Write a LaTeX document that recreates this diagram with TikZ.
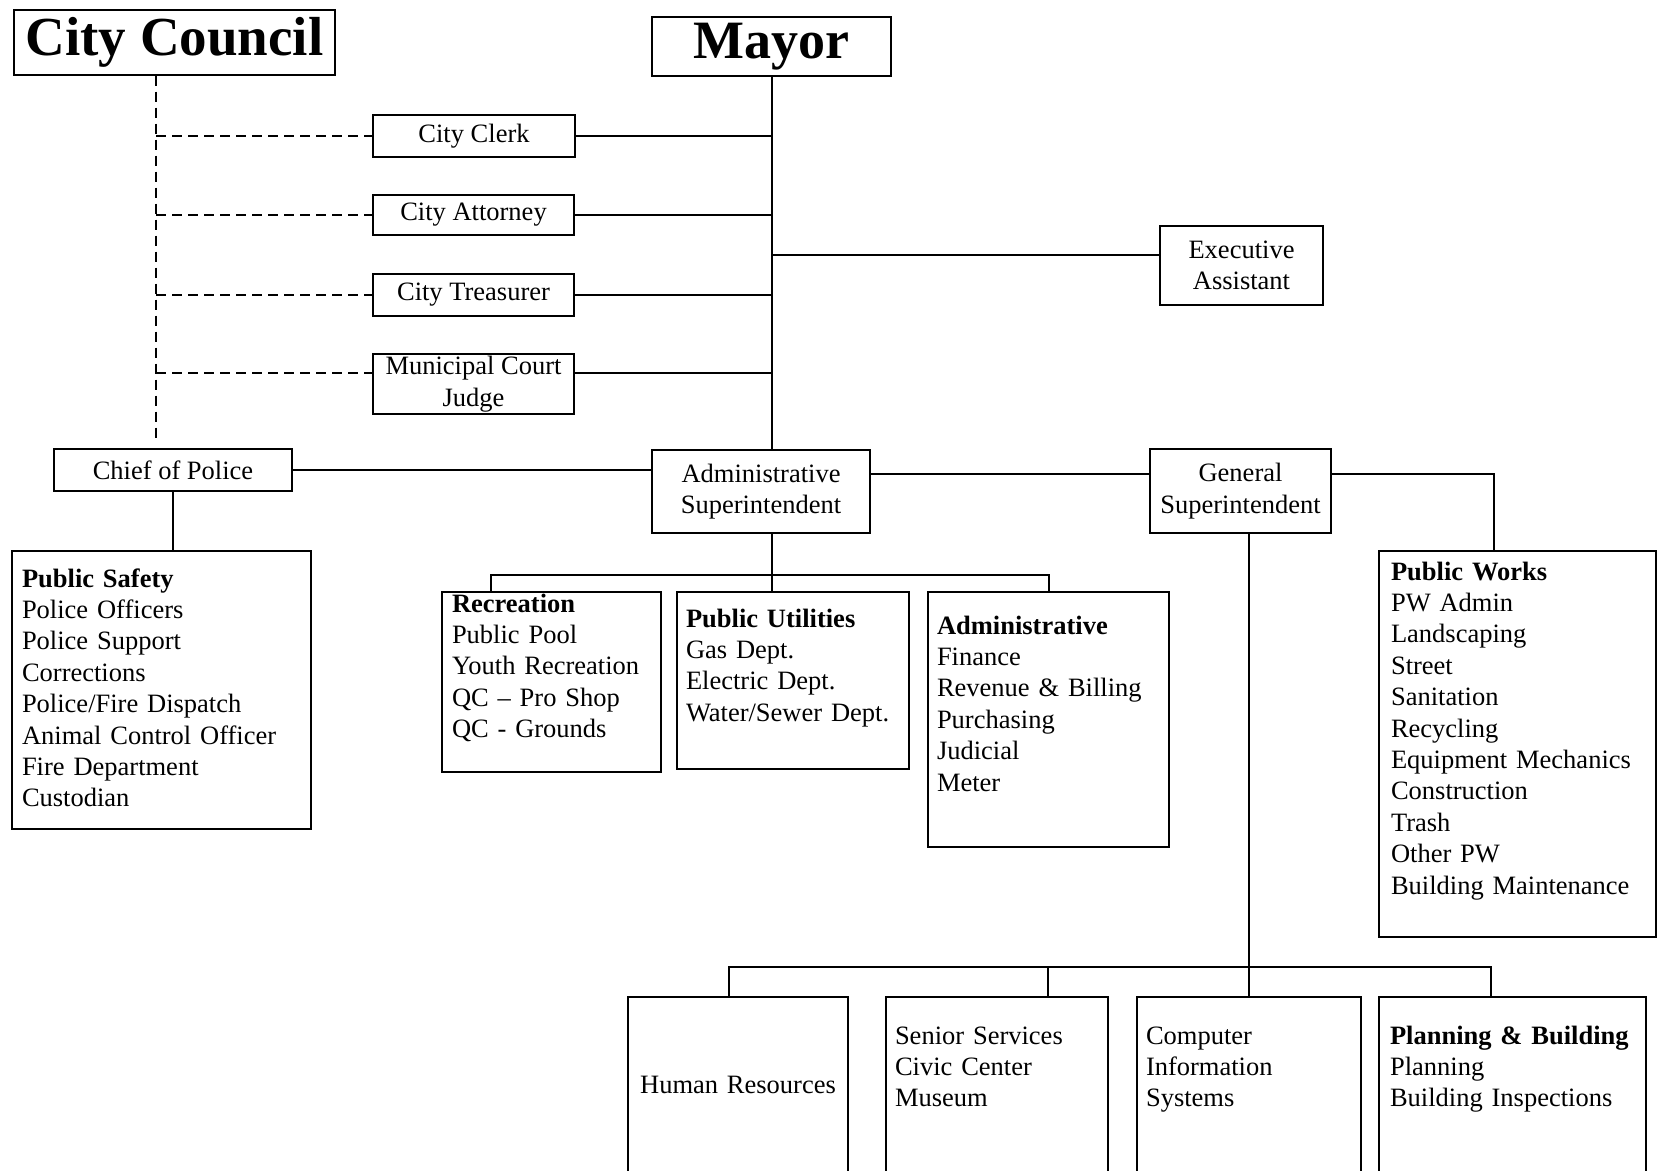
\documentclass[tikz,border=0pt]{standalone}
\usepackage{fontspec}
\setmainfont{Liberation Serif}
\begin{document}
\begin{tikzpicture}[x=1pt,y=-1pt,line width=2pt,
  every node/.style={font=\fontsize{26.5}{31.4}\selectfont},
  post/.style={draw,anchor=north west,inner sep=0pt,align=center},
  unit/.style={draw,anchor=north west,inner ysep=0pt,inner xsep=9pt,align=left},
  link/.style={dash pattern=on 10pt off 6pt}]
  \useasboundingbox (0,0) rectangle (1661,1170);
  \clip (0,0) rectangle (1661,1170);
  \node[post,minimum width=321pt,minimum height=65pt,font=\fontsize{55}{60}\selectfont\bfseries] (council) at (13,8.5) {City Council};
  \node[post,minimum width=239pt,minimum height=59pt,font=\fontsize{54}{60}\selectfont\bfseries] (mayor) at (651,16) {Mayor};
  \node[post,minimum width=202pt,minimum height=42pt] (clerk) at (372,114) {City Clerk};
  \node[post,minimum width=201pt,minimum height=40pt] (attorney) at (372,194) {City Attorney};
  \node[post,minimum width=201pt,minimum height=42pt] (treasurer) at (372,273) {City Treasurer};
  \node[post,minimum width=201pt,minimum height=60pt] (judge) at (372,353) {Municipal Court\\Judge};
  \node[post,minimum width=163pt,minimum height=79pt] (exec) at (1159,225) {Executive\\Assistant};
  \node[post,minimum width=238pt,minimum height=42pt] (chief) at (53,448) {Chief of Police};
  \node[post,minimum width=218pt,minimum height=83pt] (adminsup) at (651,449) {Administrative\\Superintendent};
  \node[post,minimum width=181pt,minimum height=84pt] (gensup) at (1149,448) {General\\Superintendent};
  \node[unit,inner xsep=10pt,text width=279pt,text height=36pt,text depth=242pt] (safety) at (11,550)
    {\textbf{Public Safety}\\Police Officers\\Police Support\\Corrections\\Police/Fire Dispatch\\Animal Control Officer\\Fire Department\\Custodian};
  \node[unit,inner xsep=10pt,text width=199pt,text height=20pt,text depth=160pt] (recreation) at (441,591)
    {\textbf{Recreation}\\Public Pool\\Youth Recreation\\QC -- Pro Shop\\QC - Grounds};
  \node[unit,text width=214pt,text height=35pt,text depth=142pt] (utilities) at (676,591)
    {\textbf{Public Utilities}\\Gas Dept.\\Electric Dept.\\Water/Sewer Dept.};
  \node[unit,text width=223pt,text height=42pt,text depth=213pt] (administrative) at (927,591)
    {\textbf{Administrative}\\Finance\\Revenue \& Billing\\Purchasing\\Judicial\\Meter};
  \node[unit,inner xsep=12pt,text width=253pt,text height=29pt,text depth=357pt] (works) at (1378,550)
    {\textbf{Public Works}\\PW Admin\\Landscaping\\Street\\Sanitation\\Recycling\\Equipment Mechanics\\Construction\\Trash\\Other PW\\Building Maintenance};
  \node[unit,inner xsep=10pt,align=center,text width=200pt,text height=96pt,text depth=150pt] (hr) at (627,996) {Human Resources};
  \node[unit,text width=204pt,text height=47pt,text depth=200pt] (senior) at (885,996)
    {Senior Services\\Civic Center\\Museum};
  \node[unit,text width=206pt,text height=47pt,text depth=200pt] (computer) at (1136,996)
    {Computer\\Information\\Systems};
  \node[unit,inner xsep=11pt,text width=245pt,text height=47pt,text depth=200pt] (planning) at (1378,996)
    {\textbf{Planning \& Building}\\Planning\\Building Inspections};
  \coordinate (cbot) at (156,443);
  \coordinate (jleft) at ([yshift=11pt]judge.west);
  \coordinate (jright) at ([yshift=11pt]judge.east);
  \draw[link] (council.south -| cbot) -- (cbot);
  \draw[link] (cbot |- clerk.west) -- (clerk.west);
  \draw[link] (cbot |- attorney.west) -- (attorney.west);
  \draw[link] (cbot |- treasurer.west) -- (treasurer.west);
  \draw[link] (cbot |- jleft) -- (jleft);
  \draw (mayor.south) -- (mayor.south |- adminsup.north);
  \draw (clerk.east) -- (clerk.east -| mayor.south);
  \draw (attorney.east) -- (attorney.east -| mayor.south);
  \draw (treasurer.east) -- (treasurer.east -| mayor.south);
  \draw (jright) -- (jright -| mayor.south);
  \draw ([yshift=10.5pt]exec.west) -- ([yshift=10.5pt]exec.west -| mayor.south);
  \draw (chief.east) -- (chief.east -| adminsup.west);
  \draw ([yshift=17.5pt]adminsup.east) -- ([yshift=17.5pt]adminsup.east -| gensup.west);
  \draw ([yshift=17pt]gensup.east) -| ([xshift=-23.5pt]works.north);
  \draw (chief.south) -- (chief.south |- safety.north);
  \draw (mayor.south |- adminsup.south) -- ++(0,41) coordinate (abar);
  \draw ([xshift=-60.5pt]recreation.north) |- (abar) -| (administrative.north);
  \draw (abar) -- (abar |- utilities.north);
  \draw (computer.north |- gensup.south) -- (computer.north);
  \draw ([xshift=-9pt]hr.north) |- ([yshift=29pt]computer.north) -| ([xshift=-21.5pt]planning.north);
  \draw ([xshift=51pt]senior.north) -- ++(0,-29);
\end{tikzpicture}
\end{document}
